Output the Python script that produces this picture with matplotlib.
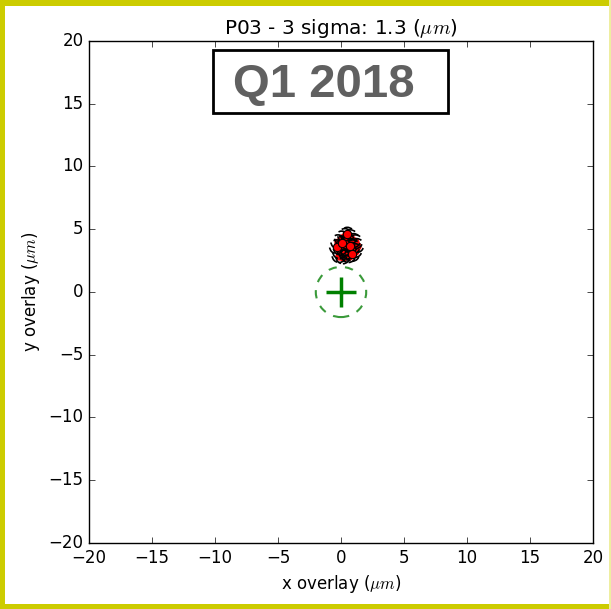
import matplotlib
matplotlib.use('Agg')
import matplotlib.pyplot as plt
from matplotlib.patches import Circle, Rectangle

plt.style.use('classic')
plt.rcParams['figure.facecolor'] = 'white'
plt.rcParams['savefig.facecolor'] = 'white'

# overlay measurements (um)
x_overlay = [-0.35, -0.1, -0.25, 0.05, 0.3, 0.5, 0.75, 1.0, 1.25, 1.1,
             0.9, 0.6, 0.4, 0.15, -0.05, 0.3, 0.6, 0.95, 0.5, 0.2,
             0.75, 0.4, -0.15, 1.15, 0.55, 0.1]
y_overlay = [3.6, 3.2, 4.0, 4.3, 4.5, 4.6, 4.4, 4.1, 3.7, 3.3,
             3.0, 2.9, 3.1, 2.8, 3.5, 3.8, 4.0, 3.6, 3.4, 3.4,
             3.7, 4.2, 2.9, 4.0, 3.2, 3.9]
point_radius = 0.55
target_radius = 2.0
sigma3 = 1.3
title = 'P03 - 3 sigma: %.1f ($\\mu m$)' % sigma3
quarter = 'Q1 2018'

fig = plt.figure(figsize=(6.11, 6.09), dpi=100)
ax = fig.add_axes([0.1457, 0.1084, 0.8248, 0.8243])

ax.plot(x_overlay, y_overlay, 'o', color='red', mec='none', ms=6, zorder=2)
for x, y in zip(x_overlay, y_overlay):
    ax.add_patch(Circle((x, y), point_radius, fill=False, ec='black',
                        ls='dashed', lw=1.2, zorder=3))
# a few measurements drawn last, so they show through the circles
ax.plot(x_overlay[::5], y_overlay[::5], 'o', color='red', mec='black',
        mew=0.8, ms=6, zorder=4)

ax.add_patch(Circle((0, 0), target_radius, fill=False, ec='#3a9a3a',
                    ls='dashed', lw=1.5))
ax.plot([0], [0], '+', color='green', ms=22, mew=2.5)

ax.set_xlim(-20, 20)
ax.set_ylim(-20, 20)
ax.set_xlabel('x overlay ($\\mu m$)')
ax.set_ylabel('y overlay ($\\mu m$)')
ax.set_title(title)

# label box
fig.patches.append(Rectangle((0.3486, 0.8144), 0.3846, 0.1035,
                             transform=fig.transFigure, fc='white',
                             ec='black', lw=2, zorder=5))
fig.text(0.530, 0.860, quarter, ha='center', va='center', fontsize=34,
         fontweight='bold', color='#606060', family='Liberation Sans',
         zorder=6)

# yellow frame around the picture
yel = '#cccc00'
fig.patches.append(Rectangle((0, 0), 0.009, 1, transform=fig.transFigure,
                             fc=yel, ec='none'))
fig.patches.append(Rectangle((0, 0.99), 1, 0.01, transform=fig.transFigure,
                             fc=yel, ec='none'))
fig.patches.append(Rectangle((0, 0), 1, 0.008, transform=fig.transFigure,
                             fc=yel, ec='none'))
fig.patches.append(Rectangle((0.997, 0), 0.003, 1, transform=fig.transFigure,
                             fc='#eeeea0', ec='none'))

fig.savefig('out.png', dpi=100)
